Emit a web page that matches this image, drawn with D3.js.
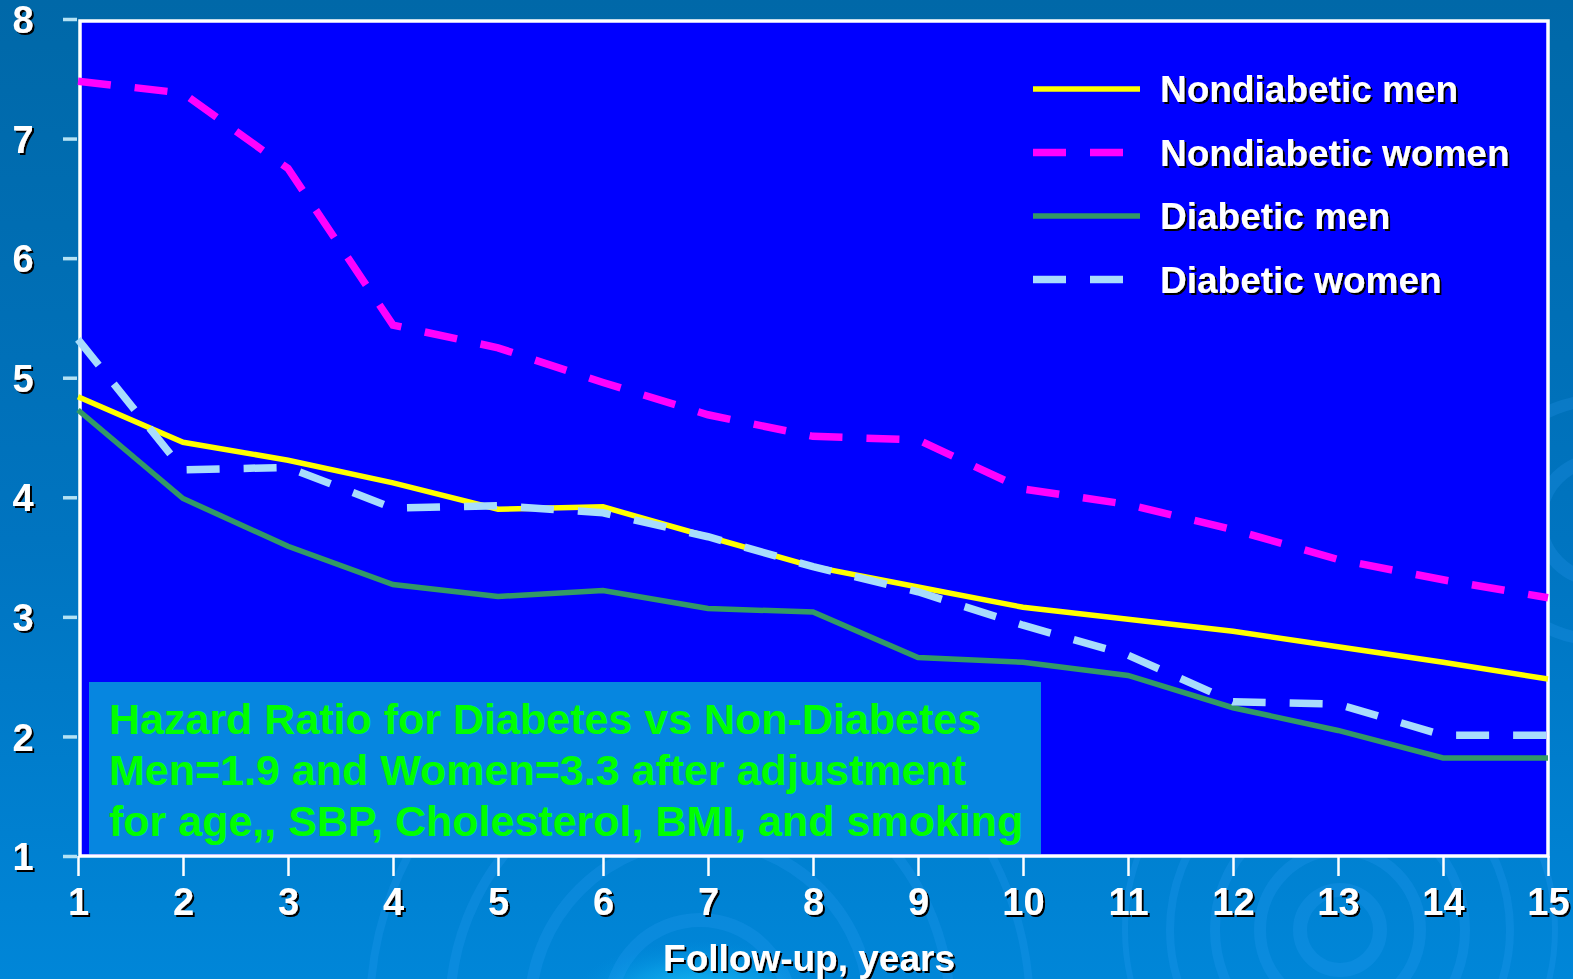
<!DOCTYPE html>
<html>
<head>
<meta charset="utf-8">
<script src="https://cdn.jsdelivr.net/npm/d3@7/dist/d3.min.js"></script>
<style>
  html, body { margin: 0; padding: 0; background: #0074bc; }
  svg { display: block; }
  text { font-family: "Liberation Sans", Arial, sans-serif; font-weight: bold; }
</style>
</head>
<body>
<svg id="chart" width="1573" height="979"></svg>
<script>
// Follow-up years on the x axis
const years = [1, 2, 3, 4, 5, 6, 7, 8, 9, 10, 11, 12, 13, 14, 15];
const yTicks = [1, 2, 3, 4, 5, 6, 7, 8];

// Hazard curves per group, one value per follow-up year
const nondiabeticMen   = [4.84, 4.46, 4.31, 4.12, 3.90, 3.92, 3.67, 3.42, 3.25, 3.08, 2.98, 2.88, 2.75, 2.62, 2.48];
const nondiabeticWomen = [7.48, 7.38, 6.75, 5.44, 5.25, 4.96, 4.69, 4.51, 4.48, 4.07, 3.94, 3.73, 3.48, 3.31, 3.16];
const diabeticMen      = [4.73, 3.99, 3.59, 3.27, 3.17, 3.22, 3.07, 3.04, 2.66, 2.62, 2.51, 2.24, 2.05, 1.82, 1.82];
const diabeticWomen    = [5.32, 4.23, 4.25, 3.91, 3.93, 3.87, 3.67, 3.42, 3.21, 2.93, 2.68, 2.29, 2.27, 2.01, 2.01];

const seriesNames = ["Nondiabetic men", "Nondiabetic women", "Diabetic men", "Diabetic women"];
const seriesValues = [nondiabeticMen, nondiabeticWomen, diabeticMen, diabeticWomen];
const seriesColors = ["#ffff00", "#ff00ff", "#339966", "#a8dcfc"];
const seriesDashed = [false, true, false, true];

const noteLines = [
  "Hazard Ratio for Diabetes vs Non-Diabetes",
  "Men=1.9 and Women=3.3 after adjustment",
  "for age,, SBP, Cholesterol, BMI, and smoking"
];
const xTitle = "Follow-up, years";

const svg = d3.select("#chart");
const W = 1573, H = 979;

const defs = svg.append("defs");
const bg = defs.append("linearGradient").attr("id", "bg").attr("x1", 0).attr("y1", 0).attr("x2", 0).attr("y2", 1);
bg.append("stop").attr("offset", "0%").attr("stop-color", "#0068a8");
bg.append("stop").attr("offset", "55%").attr("stop-color", "#0074c0");
bg.append("stop").attr("offset", "100%").attr("stop-color", "#0086d8");
const glow = defs.append("radialGradient").attr("id", "glow");
glow.append("stop").attr("offset", "0%").attr("stop-color", "#20d0ff").attr("stop-opacity", 0.9);
glow.append("stop").attr("offset", "60%").attr("stop-color", "#10b0f0").attr("stop-opacity", 0.45);
glow.append("stop").attr("offset", "100%").attr("stop-color", "#0090e0").attr("stop-opacity", 0);
const shadow = defs.append("filter").attr("id", "shadow").attr("x", "-10%").attr("y", "-10%").attr("width", "130%").attr("height", "140%");
shadow.append("feDropShadow").attr("dx", 2).attr("dy", 2).attr("stdDeviation", 0.3).attr("flood-color", "#000").attr("flood-opacity", 1);

// slide background with soft ripples
svg.append("rect").attr("width", W).attr("height", H).attr("fill", "url(#bg)");
svg.append("ellipse").attr("cx", 700).attr("cy", 1000).attr("rx", 130).attr("ry", 60).attr("fill", "url(#glow)");
const ripples = svg.append("g").attr("fill", "none").attr("stroke", "#3aa8ff").attr("stroke-opacity", 0.18);
[[1340, 930, [40, 80, 125, 170, 215]], [700, 1010, [90, 170, 250, 330]], [1600, 520, [60, 120]]]
  .forEach(([cx, cy, rs]) => rs.forEach((r, i) =>
    ripples.append("circle").attr("cx", cx).attr("cy", cy).attr("r", r).attr("stroke-width", 14 - i * 2)));

// scales
const x = d3.scaleLinear().domain([1, 15]).range([78, 1548]);
const y = d3.scaleLinear().domain([1, 8]).range([856, 19]);

// plot area
svg.append("rect")
  .attr("x", x(1) + 2).attr("y", y(8) + 2)
  .attr("width", x(15) - x(1) - 2).attr("height", y(1) - y(8) - 2)
  .attr("fill", "#0000ff").attr("stroke", "#ffffff").attr("stroke-width", 3.5);

// annotation box
const note = svg.append("g");
note.append("rect").attr("x", 89).attr("y", 682).attr("width", 952).attr("height", 172).attr("fill", "#0686e0");
note.selectAll("text").data(noteLines).join("text")
  .attr("x", 109).attr("y", (d, i) => 734 + i * 51)
  .attr("font-size", 43).attr("fill", "#00ff00")
  .text(d => d);

// series lines
const line = d3.line().x((d, i) => x(years[i])).y(d => y(d));
const lines = svg.append("g").attr("fill", "none").attr("stroke-linejoin", "miter");
const drawOrder = [1, 0, 2, 3];
drawOrder.forEach(k => {
  lines.append("path")
    .datum(seriesValues[k])
    .attr("d", line)
    .attr("stroke", seriesColors[k])
    .attr("stroke-width", seriesDashed[k] ? 7.5 : 5.5)
    .attr("stroke-dasharray", seriesDashed[k] ? "33,24" : null);
});

// y axis: short light ticks left of the frame
const yAxis = d3.axisLeft(y).tickValues(yTicks).tickSize(14).tickPadding(28).tickFormat(d3.format("d"));
const gy = svg.append("g").attr("transform", `translate(${x(1)},0)`).call(yAxis);
gy.select(".domain").remove();
gy.selectAll(".tick line").attr("stroke", "#b4e2f4").attr("stroke-width", 3.5).attr("transform", "translate(-1,0)");
gy.selectAll(".tick text").attr("font-size", 38).attr("fill", "#fff").attr("text-anchor", "middle")
  .attr("x", -55).attr("dy", "0.36em").attr("filter", "url(#shadow)");

// x axis
const xAxis = d3.axisBottom(x).tickValues(years).tickSize(20).tickPadding(12).tickFormat(d3.format("d"));
const gx = svg.append("g").attr("transform", `translate(0,${y(1)})`).call(xAxis);
gx.select(".domain").remove();
gx.selectAll(".tick line").attr("stroke", "#fff").attr("stroke-width", 2.5);
gx.selectAll(".tick text").attr("font-size", 38).attr("fill", "#fff").attr("dy", "0.71em")
  .attr("y", 32).attr("filter", "url(#shadow)");

svg.append("text").attr("x", 809).attr("y", 971).attr("text-anchor", "middle")
  .attr("font-size", 37).attr("fill", "#fff").attr("filter", "url(#shadow)").text(xTitle);

// legend
const legend = svg.append("g").attr("transform", "translate(1033,89)");
const item = legend.selectAll("g").data(seriesNames).join("g")
  .attr("transform", (d, i) => `translate(0,${i * 63.5})`);
item.append("line").attr("x1", 0).attr("x2", (d, i) => seriesDashed[i] ? 90 : 107).attr("y1", 0).attr("y2", 0)
  .attr("stroke", (d, i) => seriesColors[i])
  .attr("stroke-width", (d, i) => seriesDashed[i] ? 7.5 : 5.5)
  .attr("stroke-dasharray", (d, i) => seriesDashed[i] ? "33,24" : null);
item.append("text").attr("x", 127).attr("y", 13)
  .attr("font-size", 37).attr("fill", "#fff").attr("filter", "url(#shadow)").text(d => d);
</script>
</body>
</html>
